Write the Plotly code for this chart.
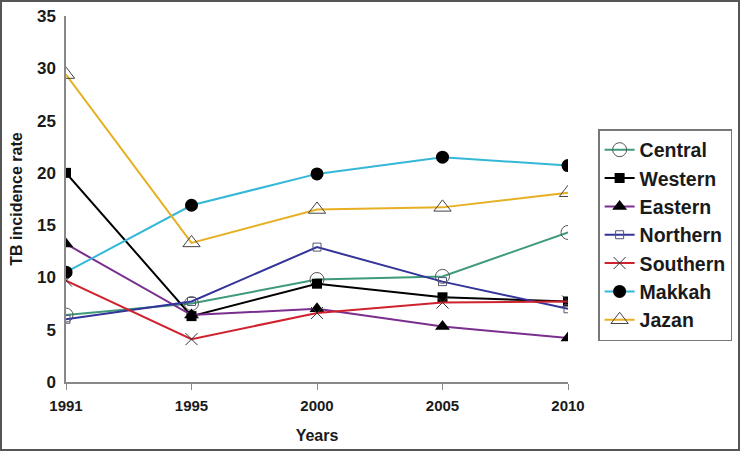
import plotly.graph_objects as go

years = ["1991", "1995", "2000", "2005", "2010"]
central = [6.4, 7.5, 9.8, 10.1, 14.3]
western = [20.0, 6.3, 9.4, 8.1, 7.7]
eastern = [13.2, 6.4, 7.0, 5.3, 4.2]
northern = [6.0, 7.7, 12.9, 9.6, 7.0]
southern = [9.7, 4.1, 6.6, 7.6, 7.7]
makkah = [10.5, 16.9, 19.9, 21.5, 20.7]
jazan = [29.4, 13.3, 16.5, 16.7, 18.1]

series = [
    ("Central", central, "#3E9A78", dict(symbol="circle-open", size=14, color="#555555", line=dict(width=1))),
    ("Western", western, "#000000", dict(symbol="square", size=10, color="#000000")),
    ("Eastern", eastern, "#7A2E8E", dict(symbol="triangle-up", size=13, color="#000000")),
    ("Northern", northern, "#33339A", dict(symbol="square-open", size=8, color="#555577", line=dict(width=1))),
    ("Southern", southern, "#D0222E", dict(symbol="x-thin-open", size=12, color="#333333", line=dict(width=1))),
    ("Makkah", makkah, "#35B8D8", dict(symbol="circle", size=13, color="#000000")),
    ("Jazan", jazan, "#E6B022", dict(symbol="triangle-up-open", size=15, color="#444444", line=dict(width=1))),
]

fig = go.Figure()
for name, vals, col, mk in series:
    fig.add_trace(go.Scatter(x=years, y=vals, name=name, mode="lines+markers",
                             line=dict(color=col, width=2), marker=mk))

fig.update_layout(
    width=740, height=451,
    margin=dict(l=66, r=172, t=16, b=69, autoexpand=False),
    paper_bgcolor="white", plot_bgcolor="white",
    font=dict(family="Liberation Sans, Arial", color="#1a1a1a"),
    showlegend=True,
    legend=dict(x=1.06, y=1 - (129 - 16) / 366, xanchor="left", yanchor="top",
                bordercolor="#777777", borderwidth=1.5,
                font=dict(size=19.5, family="Liberation Sans, Arial", weight="bold"),
                tracegroupgap=0, itemwidth=30),
    xaxis=dict(type="category", range=[0, 4], showgrid=False, showline=True,
               linecolor="#888888", linewidth=1.5, ticks="outside", ticklen=6,
               tickcolor="#888888", ticklabelstandoff=3,
               tickfont=dict(size=15, weight="bold"),
               title=dict(text="Years", font=dict(size=16, weight="bold"), standoff=17)),
    yaxis=dict(range=[0, 35], dtick=5, showgrid=False, showline=True, zeroline=False,
               linecolor="#888888", linewidth=1.5, ticks="outside", ticklen=5,
               tickcolor="rgba(0,0,0,0)",
               tickfont=dict(size=17, weight="bold"),
               title=dict(text="TB incidence rate", font=dict(size=16, weight="bold"), standoff=10)),
)

fig.add_shape(type="rect", xref="paper", yref="paper",
              x0=-65/502, x1=1 + 171/502,
              y0=-68/366, y1=1 + 15/366,
              line=dict(color="#555555", width=2), layer="below")

fig.write_html("out.html", config=dict(displayModeBar=False),
               post_script="document.body.style.margin='0';document.body.style.overflow='hidden';")
